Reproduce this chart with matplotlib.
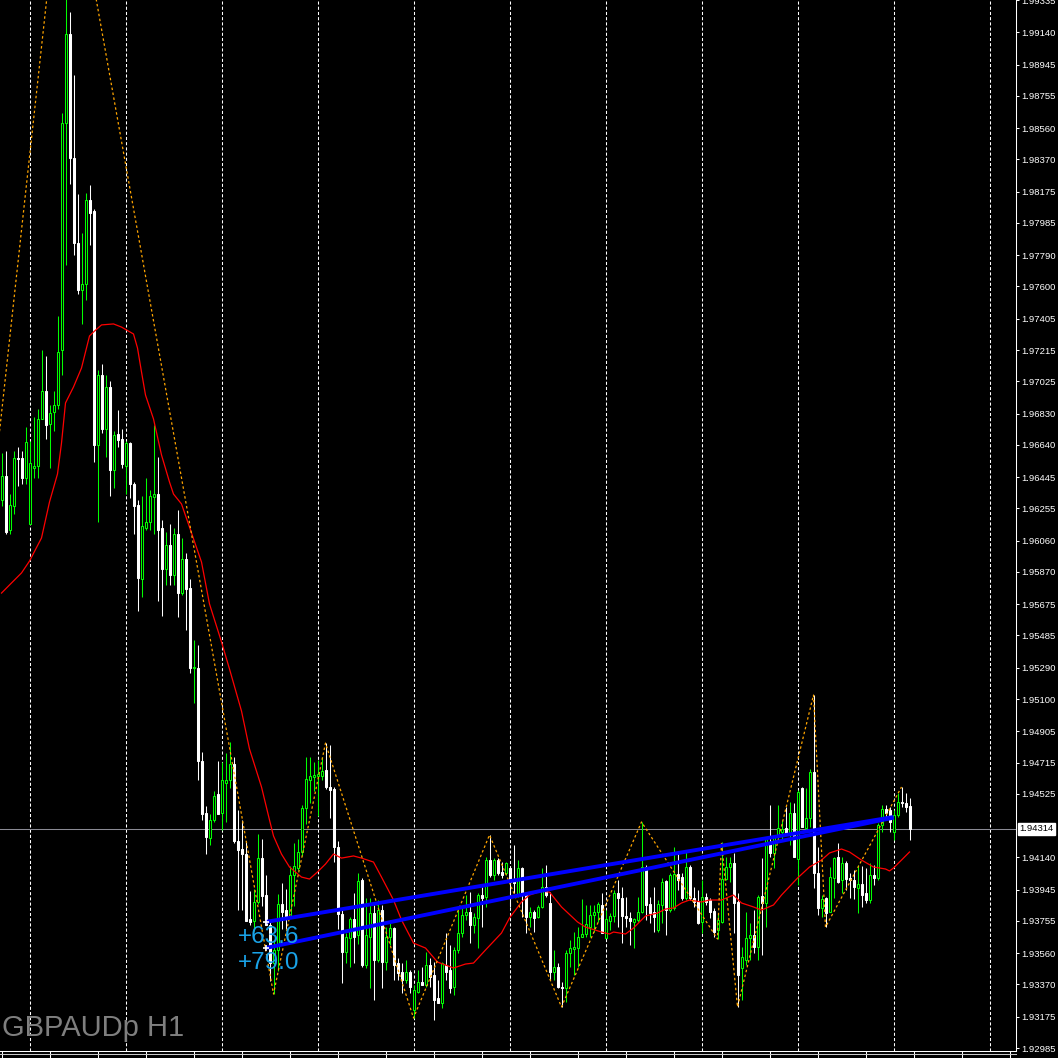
import matplotlib
matplotlib.use('Agg')
import matplotlib.pyplot as plt
from matplotlib.lines import Line2D
import numpy as np

# GBPAUDp H1 candles, one value per bar
open_ = [1.96306, 1.96451, 1.96124, 1.96270, 1.96560, 1.96560, 1.96439, 1.96161, 1.96500, 1.96512,
         1.96797, 1.96966, 1.96767, 1.96839, 1.96882, 1.97215, 1.98591, 1.99130, 1.98379, 1.97863,
         1.97579, 1.97615, 1.98124, 1.98057, 1.96639, 1.97063, 1.96736, 1.96991, 1.96488, 1.96706,
         1.96676, 1.96512, 1.96651, 1.96403, 1.96276, 1.95827, 1.96136, 1.96173, 1.96324, 1.96342,
         1.96136, 1.95888, 1.96033, 1.95852, 1.96100, 1.95742, 1.95948, 1.95773, 1.95288, 1.95288,
         1.94724, 1.94409, 1.94258, 1.94367, 1.94524, 1.94409, 1.94591, 1.94609, 1.94706, 1.94240,
         1.94191, 1.94161, 1.93767, 1.93755, 1.93870, 1.94136, 1.93912, 1.93730, 1.93500, 1.93579,
         1.93858, 1.93821, 1.93779, 1.94034, 1.94076, 1.94173, 1.94439, 1.94609, 1.94627, 1.94633,
         1.94633, 1.94670, 1.94567, 1.94555, 1.94203, 1.93797, 1.93567, 1.93652, 1.93767, 1.93670,
         1.94003, 1.93488, 1.93658, 1.93803, 1.93518, 1.93821, 1.93506, 1.93658, 1.93712, 1.93500,
         1.93446, 1.93397, 1.93446, 1.93215, 1.93325, 1.93385, 1.93367, 1.93488, 1.93428, 1.93288,
         1.93258, 1.93488, 1.93458, 1.93355, 1.93579, 1.93682, 1.93791, 1.93809, 1.93730, 1.93773,
         1.93912, 1.93900, 1.94124, 1.94034, 1.94124, 1.94052, 1.94046, 1.94076, 1.94003, 1.93912,
         1.94076, 1.93924, 1.93779, 1.93809, 1.93779, 1.93840, 1.93961, 1.93864, 1.93446, 1.93476,
         1.93355, 1.93349, 1.93561, 1.93585, 1.93591, 1.93658, 1.93676, 1.93718, 1.93791, 1.93809,
         1.93852, 1.93652, 1.93755, 1.93785, 1.93924, 1.93894, 1.93785, 1.93773, 1.93749, 1.93761,
         1.93809, 1.94082, 1.93858, 1.93809, 1.93700, 1.93852, 1.93997, 1.93821, 1.93834, 1.94040,
         1.94021, 1.93894, 1.94082, 1.93894, 1.93876, 1.93749, 1.93900, 1.93882, 1.93815, 1.93700,
         1.93749, 1.94009, 1.94082, 1.94106, 1.93870, 1.93470, 1.93518, 1.93652, 1.93670, 1.93597,
         1.93906, 1.93864, 1.94227, 1.94167, 1.94264, 1.94294, 1.94318, 1.94288, 1.94409, 1.94130,
         1.94561, 1.94318, 1.94379, 1.94658, 1.94046, 1.93834, 1.93894, 1.93809, 1.94015, 1.94143,
         1.94003, 1.94106, 1.94015, 1.94003, 1.93955, 1.93979, 1.93924, 1.93882, 1.94034, 1.94015,
         1.94337, 1.94434, 1.94427, 1.94294, 1.94397, 1.94476, 1.94470, 1.94452]
high = [1.96591, 1.96603, 1.96342, 1.96603, 1.96627, 1.96603, 1.96748, 1.96663, 1.96809, 1.96857,
        1.97215, 1.97179, 1.96882, 1.96966, 1.97421, 1.98651, 1.99397, 1.99263, 1.98881, 1.98160,
        1.97924, 1.98166, 1.98215, 1.98070, 1.97094, 1.97130, 1.97063, 1.97027, 1.96724, 1.96851,
        1.96736, 1.96663, 1.96657, 1.96415, 1.96306, 1.96330, 1.96439, 1.96367, 1.96760, 1.96567,
        1.96185, 1.96112, 1.96161, 1.96136, 1.96245, 1.96076, 1.95985, 1.95827, 1.95458, 1.95427,
        1.94779, 1.94452, 1.94403, 1.94543, 1.94724, 1.94718, 1.94773, 1.94840, 1.94749, 1.94427,
        1.94367, 1.94240, 1.93936, 1.93949, 1.94282, 1.94252, 1.94034, 1.93761, 1.93640, 1.93918,
        1.93985, 1.93949, 1.94088, 1.94227, 1.94252, 1.94458, 1.94749, 1.94749, 1.94718, 1.94730,
        1.94749, 1.94833, 1.94821, 1.94567, 1.94240, 1.93821, 1.93682, 1.93779, 1.93924, 1.94046,
        1.94015, 1.93894, 1.93894, 1.93852, 1.93882, 1.93852, 1.93718, 1.93761, 1.93718, 1.93530,
        1.93500, 1.93518, 1.93458, 1.93367, 1.93458, 1.93476, 1.93567, 1.93530, 1.93506, 1.93397,
        1.93506, 1.93682, 1.93609, 1.93597, 1.93840, 1.93840, 1.93912, 1.93930, 1.93803, 1.93924,
        1.93961, 1.94143, 1.94276, 1.94136, 1.94136, 1.94112, 1.94112, 1.94082, 1.94215, 1.94124,
        1.94082, 1.93930, 1.93840, 1.93821, 1.93852, 1.94076, 1.94094, 1.93930, 1.93579, 1.93500,
        1.93385, 1.93579, 1.93640, 1.93688, 1.93718, 1.93888, 1.93852, 1.93852, 1.93852, 1.93870,
        1.93924, 1.93821, 1.93803, 1.93943, 1.94003, 1.93961, 1.93900, 1.93809, 1.93773, 1.93900,
        1.94355, 1.94094, 1.93900, 1.93961, 1.93882, 1.94015, 1.94003, 1.94046, 1.94203, 1.94173,
        1.94046, 1.94173, 1.94094, 1.93961, 1.93943, 1.94003, 1.93924, 1.93894, 1.93834, 1.93803,
        1.94234, 1.94143, 1.94143, 1.94167, 1.93924, 1.93597, 1.93809, 1.93743, 1.93821, 1.93912,
        1.94136, 1.94264, 1.94458, 1.94276, 1.94458, 1.94367, 1.94446, 1.94476, 1.94470, 1.94549,
        1.94567, 1.94561, 1.94676, 1.95124, 1.94203, 1.93912, 1.93900, 1.94082, 1.94143, 1.94227,
        1.94143, 1.94118, 1.94046, 1.94064, 1.94094, 1.94088, 1.94076, 1.94106, 1.94094, 1.94349,
        1.94458, 1.94458, 1.94446, 1.94427, 1.94530, 1.94567, 1.94530, 1.94500]
low = [1.96270, 1.96100, 1.96100, 1.96221, 1.96391, 1.96403, 1.96403, 1.96161, 1.96439, 1.96439,
       1.96797, 1.96676, 1.96500, 1.96724, 1.96857, 1.97063, 1.97730, 1.98221, 1.97791, 1.97554,
       1.97373, 1.97518, 1.97851, 1.96536, 1.96173, 1.96712, 1.96567, 1.96330, 1.96379, 1.96627,
       1.96500, 1.96342, 1.96318, 1.96100, 1.95633, 1.95718, 1.96124, 1.96124, 1.96100, 1.95694,
       1.95603, 1.95791, 1.95791, 1.95791, 1.95597, 1.95730, 1.95518, 1.95258, 1.95076, 1.94609,
       1.94367, 1.94161, 1.94215, 1.94355, 1.94403, 1.94306, 1.94355, 1.94561, 1.94227, 1.93821,
       1.93821, 1.93755, 1.93730, 1.93694, 1.93858, 1.93846, 1.93730, 1.93391, 1.93312, 1.93452,
       1.93706, 1.93706, 1.93779, 1.93846, 1.94064, 1.94149, 1.94343, 1.94470, 1.94543, 1.94391,
       1.94609, 1.94555, 1.94379, 1.94112, 1.93706, 1.93379, 1.93500, 1.93476, 1.93500, 1.93615,
       1.93476, 1.93470, 1.93349, 1.93276, 1.93506, 1.93349, 1.93458, 1.93609, 1.93397, 1.93397,
       1.93318, 1.93379, 1.93318, 1.93167, 1.93318, 1.93367, 1.93355, 1.93355, 1.93155, 1.93258,
       1.93228, 1.93397, 1.93318, 1.93306, 1.93561, 1.93658, 1.93761, 1.93621, 1.93682, 1.93591,
       1.93718, 1.93840, 1.94021, 1.94003, 1.94034, 1.94015, 1.94034, 1.93840, 1.93924, 1.93900,
       1.93779, 1.93682, 1.93718, 1.93688, 1.93773, 1.93834, 1.93900, 1.93397, 1.93397, 1.93349,
       1.93234, 1.93264, 1.93476, 1.93428, 1.93476, 1.93658, 1.93658, 1.93658, 1.93688, 1.93749,
       1.93682, 1.93652, 1.93700, 1.93749, 1.93718, 1.93621, 1.93718, 1.93609, 1.93591, 1.93749,
       1.93803, 1.93761, 1.93743, 1.93688, 1.93688, 1.93743, 1.93670, 1.93809, 1.93821, 1.93943,
       1.93882, 1.93882, 1.93882, 1.93840, 1.93737, 1.93682, 1.93852, 1.93773, 1.93658, 1.93646,
       1.93743, 1.94003, 1.93991, 1.93682, 1.93234, 1.93276, 1.93488, 1.93518, 1.93561, 1.93518,
       1.93549, 1.93718, 1.94143, 1.94076, 1.94246, 1.94246, 1.94276, 1.94215, 1.94143, 1.93973,
       1.94324, 1.94306, 1.94324, 1.93955, 1.93791, 1.93779, 1.93718, 1.93809, 1.93894, 1.93985,
       1.93924, 1.93943, 1.93894, 1.93888, 1.93803, 1.93840, 1.93864, 1.93864, 1.93973, 1.94003,
       1.94294, 1.94385, 1.94294, 1.94246, 1.94385, 1.94446, 1.94415, 1.94246]
close = [1.96451, 1.96112, 1.96276, 1.96560, 1.96554, 1.96439, 1.96657, 1.96530, 1.96512, 1.96797,
         1.96966, 1.96760, 1.96833, 1.96882, 1.97203, 1.98591, 1.99130, 1.98379, 1.97863, 1.97579,
         1.97615, 1.98124, 1.98045, 1.96639, 1.97063, 1.96736, 1.96991, 1.96488, 1.96700, 1.96670,
         1.96524, 1.96651, 1.96403, 1.96270, 1.95833, 1.96148, 1.96173, 1.96330, 1.96342, 1.96124,
         1.95888, 1.96033, 1.95852, 1.96100, 1.95742, 1.95948, 1.95767, 1.95288, 1.95294, 1.94724,
         1.94403, 1.94264, 1.94367, 1.94512, 1.94403, 1.94609, 1.94609, 1.94706, 1.94240, 1.94185,
         1.94161, 1.93755, 1.93749, 1.93870, 1.94136, 1.93906, 1.93730, 1.93500, 1.93579, 1.93858,
         1.93809, 1.93779, 1.94034, 1.94088, 1.94173, 1.94439, 1.94615, 1.94633, 1.94639, 1.94646,
         1.94664, 1.94567, 1.94549, 1.94203, 1.93797, 1.93567, 1.93658, 1.93767, 1.93658, 1.93997,
         1.93488, 1.93670, 1.93803, 1.93518, 1.93821, 1.93506, 1.93658, 1.93712, 1.93488, 1.93440,
         1.93397, 1.93446, 1.93355, 1.93337, 1.93385, 1.93367, 1.93488, 1.93415, 1.93276, 1.93258,
         1.93500, 1.93446, 1.93349, 1.93579, 1.93682, 1.93791, 1.93809, 1.93730, 1.93779, 1.93912,
         1.93894, 1.94124, 1.94034, 1.94124, 1.94046, 1.94034, 1.94106, 1.93991, 1.93985, 1.94076,
         1.93924, 1.93779, 1.93809, 1.93773, 1.93840, 1.93961, 1.93912, 1.93446, 1.93476, 1.93355,
         1.93349, 1.93561, 1.93591, 1.93597, 1.93658, 1.93676, 1.93737, 1.93791, 1.93809, 1.93858,
         1.93682, 1.93767, 1.93785, 1.93924, 1.93894, 1.93785, 1.93773, 1.93755, 1.93767, 1.93809,
         1.94082, 1.93852, 1.93803, 1.93779, 1.93858, 1.93991, 1.93821, 1.94034, 1.94040, 1.94003,
         1.93894, 1.94082, 1.93894, 1.93870, 1.93743, 1.93900, 1.93870, 1.93809, 1.93688, 1.93761,
         1.94009, 1.94082, 1.94106, 1.93864, 1.93428, 1.93537, 1.93652, 1.93670, 1.93597, 1.93900,
         1.93864, 1.94258, 1.94167, 1.94264, 1.94318, 1.94312, 1.94288, 1.94409, 1.94143, 1.94537,
         1.94324, 1.94379, 1.94658, 1.94046, 1.93834, 1.93888, 1.93803, 1.94021, 1.94136, 1.93991,
         1.94106, 1.94009, 1.94003, 1.93961, 1.93979, 1.93912, 1.93882, 1.94034, 1.94015, 1.94337,
         1.94434, 1.94409, 1.94355, 1.94397, 1.94476, 1.94470, 1.94446, 1.94314]

# red moving average, read at these bar numbers
ma_bar = [0, 2, 5, 7, 10, 12, 14, 15, 16, 18, 20, 21, 22, 23, 25, 28, 30, 33, 34, 35,
          36, 38, 40, 42, 43, 45, 47, 50, 52, 55, 57, 60, 62, 65, 67, 68, 70, 72, 75, 77,
          79, 81, 83, 85, 88, 90, 93, 95, 98, 100, 103, 106, 109, 111, 113, 116, 118, 121, 125, 127,
          130, 132, 135, 137, 140, 144, 146, 150, 152, 153, 156, 158, 160, 161, 164, 166, 168, 170, 172, 175,
          177, 180, 183, 185, 188, 190, 193, 195, 199, 202, 205, 207, 210, 212, 215, 218, 221, 222, 223, 225,
          227]
ma_val = [1.95742, 1.95791, 1.95864, 1.95936, 1.96076, 1.96294, 1.96464, 1.96651, 1.96894, 1.96991,
          1.97106, 1.97203, 1.97300, 1.97324, 1.97367, 1.97373, 1.97354, 1.97312, 1.97227, 1.97082,
          1.96942, 1.96797, 1.96579, 1.96415, 1.96342, 1.96282, 1.96142, 1.95930, 1.95676, 1.95446,
          1.95282, 1.95027, 1.94797, 1.94567, 1.94367, 1.94270, 1.94160, 1.94082, 1.94021, 1.94009,
          1.94052, 1.94100, 1.94161, 1.94136, 1.94149, 1.94136, 1.94112, 1.94021, 1.93882, 1.93761,
          1.93621, 1.93591, 1.93506, 1.93488, 1.93470, 1.93494, 1.93500, 1.93579, 1.93682, 1.93773,
          1.93870, 1.93912, 1.93936, 1.93930, 1.93840, 1.93749, 1.93718, 1.93688, 1.93676, 1.93688,
          1.93676, 1.93712, 1.93761, 1.93785, 1.93803, 1.93827, 1.93834, 1.93864, 1.93882, 1.93870,
          1.93882, 1.93882, 1.93912, 1.93864, 1.93840, 1.93821, 1.93852, 1.93912, 1.94015, 1.94082,
          1.94124, 1.94167, 1.94191, 1.94173, 1.94124, 1.94082, 1.94070, 1.94058, 1.94076, 1.94124,
          1.94173]

# orange zigzag turning points
zz_bar = [-1, 16, 68, 81, 103, 122, 140, 160, 179, 180, 184, 203, 206, 225]
zz_val = [1.96609, 2.00384, 1.93312, 1.94833, 1.93167, 1.94276, 1.93234, 1.94355, 1.93646,
          1.94234, 1.93234, 1.95124, 1.93718, 1.94567]

# two blue trend lines
tl_bar0 = [66, 66]
tl_bar1 = [223, 223]
tl_p0 = [1.93749, 1.93591]
tl_p1 = [1.94385, 1.94381]

# right price scale
tick_vals = [1.99335, 1.99140, 1.98945, 1.98755, 1.98560, 1.98370, 1.98175, 1.97985, 1.97790,
             1.97600, 1.97405, 1.97215, 1.97025, 1.96830, 1.96640, 1.96445, 1.96255, 1.96060,
             1.95870, 1.95675, 1.95485, 1.95290, 1.95100, 1.94905, 1.94715, 1.94525, 1.94140,
             1.93945, 1.93755, 1.93560, 1.93370, 1.93175, 1.92985]

W = H = 1058
fig = plt.figure(figsize=(W / 100, H / 100), dpi=100, facecolor='black')
ax = fig.add_axes([0, 7 / H, 1016 / W, 1051 / H])
ax.set_facecolor('black')

o = np.array(open_)
hi = np.array(high)
lo = np.array(low)
c = np.array(close)
bars = np.arange(len(c))
up = c > o

# period separators
for k in range(11):
    ax.axvline(7 + 24 * k, color='white', lw=0.75, ls=(0, (3, 2)), zorder=1)

# bid line
ax.axhline(c[-1], color='#8a8a94', lw=0.75, zorder=2)

# wicks then bodies
ax.vlines(bars[up], lo[up], hi[up], color='#00ff00', lw=0.75, zorder=3)
ax.vlines(bars[~up], lo[~up], hi[~up], color='white', lw=0.75, zorder=3)
body_lo = np.minimum(o, c)
body_h = np.abs(c - o)
ax.bar(bars[up], body_h[up], 0.5, bottom=body_lo[up], facecolor='black',
       edgecolor='#00ff00', lw=0.75, zorder=4)
ax.bar(bars[~up], body_h[~up], 0.5, bottom=body_lo[~up], facecolor='white',
       edgecolor='white', lw=0.75, zorder=4)

ax.plot(ma_bar, ma_val, color='red', lw=0.9, zorder=5)
ax.plot(zz_bar, zz_val, color='orange', lw=0.9, ls=(0, (2, 2)), zorder=5)

for b0, b1, p0, p1 in zip(tl_bar0, tl_bar1, tl_p0, tl_p1):
    ax.plot([b0, b1], [p0, p1], color='blue', lw=2.8, zorder=6, solid_capstyle='butt')
    ax.plot(b0, p0, marker='+', color='white', ms=5, mew=1.2, zorder=7)
    ax.annotate(f'{(p1 - p0) * 1e4:+.1f}', (b0, p0), xytext=(2, -11), textcoords='offset points',
                ha='center', va='center', color='#1aa3e8', fontsize=17.5,
                family='Liberation Sans', zorder=8)

ax.set_xlim(-0.375, 253.625)
ax.set_ylim(1.92967, 1.99336)

ax.yaxis.tick_right()
ax.set_yticks(tick_vals)
ax.set_yticklabels([f'{v:.5f}' for v in tick_vals], family='Liberation Sans', fontsize=6.8, color='white')
ax.tick_params(axis='y', colors='white', length=2.5, width=0.75, pad=1.5)
# time scale marks, labels fall below the visible area
ax.set_xticks(np.arange(0, 254, 12))
ax.set_xticklabels([])
ax.tick_params(axis='x', colors='white', length=5, width=0.75, direction='out')
for s in ['top', 'left']:
    ax.spines[s].set_visible(False)
for s in ['right', 'bottom']:
    ax.spines[s].set_color('white')
    ax.spines[s].set_linewidth(0.75)

# second rule under the chart
fig.add_artist(Line2D([0, 1016 / W], [(H - 1054) / H] * 2, color='#c8c8c8', lw=0.75))

# current price box on the scale
ax.text(1.003, c[-1], f'{c[-1]:.5f}', transform=ax.get_yaxis_transform(), ha='left', va='center',
        fontsize=6.8, family='Liberation Sans', color='black', clip_on=False, zorder=10,
        bbox=dict(boxstyle='square,pad=0.15', fc='white', ec='white'))

fig.text(2 / W, (H - 1036) / H, 'GBPAUDp H1', color='#7f7f7f', fontsize=21,
         family='Liberation Sans', ha='left', va='baseline')

fig.savefig('out.png', dpi=100, facecolor='black')
